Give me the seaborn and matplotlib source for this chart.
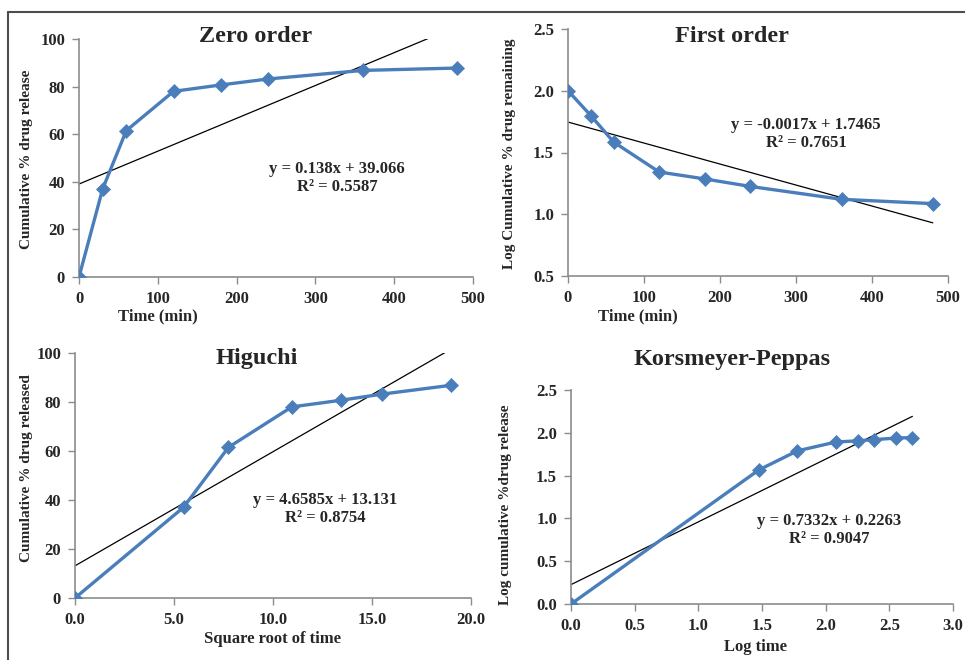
import numpy as np
import pandas as pd
import seaborn as sns
import matplotlib.pyplot as plt
from matplotlib.lines import Line2D

# ---- release data ----
time_min = [0, 30, 60, 120, 180, 240, 360, 480]
cum_release = [0, 37.0, 61.5, 78.0, 80.7, 83.2, 86.8, 87.8]
log_remaining = [2.000, 1.799, 1.585, 1.342, 1.286, 1.225, 1.121, 1.086]
sqrt_time = [0, 5.48, 7.75, 10.95, 13.42, 15.49, 18.97]
cum_release_sqrt = [0, 37.0, 61.5, 78.0, 80.7, 83.2, 86.8]
log_time = [0, 1.477, 1.778, 2.079, 2.255, 2.380, 2.556, 2.681]
log_release = [0, 1.568, 1.789, 1.892, 1.907, 1.920, 1.939, 1.944]

# linear fits (slope, intercept, R^2)
fit_zero = (0.138, 39.066, 0.5587)
fit_first = (-0.0017, 1.7465, 0.7651)
fit_higuchi = (4.6585, 13.131, 0.8754)
fit_kp = (0.7332, 0.2263, 0.9047)

sns.set_theme(style="white")
plt.rcParams["font.family"] = ["Liberation Serif", "DejaVu Serif"]
plt.rcParams["font.weight"] = "bold"

W, H = 965, 660
fig = plt.figure(figsize=(W / 100, H / 100), dpi=100)

BLUE = "#4a7ebb"
SPINE = "#8c8c8c"


def px_axes(l, r, t, b):
    return fig.add_axes([l / W, 1 - b / H, (r - l) / W, (b - t) / H])


def ftext(x, y, s, **kw):
    fig.text(x / W, 1 - y / H, s, ha="center", va="center",
             fontweight="bold", **kw)


def panel(rect, x, y, fit, xlim, ylim, xticks, yticks, fmt_x, fmt_y,
          title, title_xy, eq_xy, ylabel, ylabel_xy, xlabel, xlabel_xy):
    ax = px_axes(*rect)
    df = pd.DataFrame({"x": x, "y": y})
    sns.lineplot(data=df, x="x", y="y", ax=ax, color=BLUE, linewidth=2.4,
                 marker="D", markersize=7, markeredgecolor=BLUE,
                 markeredgewidth=0.5, zorder=3)
    slope, icpt, r2 = fit
    xs = np.array([min(x), max(x)])
    ax.plot(xs, slope * xs + icpt, color="black", linewidth=0.9, zorder=2)
    ax.set_xlim(*xlim)
    ax.set_ylim(*ylim)
    ax.set_xticks(xticks)
    ax.set_yticks(yticks)
    ax.set_xticklabels([fmt_x.format(v) for v in xticks])
    ax.set_yticklabels([fmt_y.format(v) for v in yticks])
    ax.set_xlabel("")
    ax.set_ylabel("")
    for side in ("top", "right"):
        ax.spines[side].set_visible(False)
    for side in ("left", "bottom"):
        ax.spines[side].set_color(SPINE)
        ax.spines[side].set_linewidth(1.2)
    ax.tick_params(axis="both", which="major", direction="out", length=5,
                   width=1.0, color=SPINE, labelsize=12, pad=5,
                   bottom=True, left=True)
    for lab in ax.get_xticklabels() + ax.get_yticklabels():
        lab.set_fontweight("bold")
    ax.set_facecolor("white")
    ax.patch.set_alpha(0)
    ftext(*title_xy, title, fontsize=17.5)
    sign = "-" if icpt < 0 else "+"
    eq = f"y = {slope:g}x {sign} {abs(icpt):g}\nR\u00b2 = {r2:.4f}"
    ftext(*eq_xy, eq, fontsize=12, linespacing=1.2)
    ftext(*ylabel_xy, ylabel, fontsize=11, rotation=90)
    ftext(*xlabel_xy, xlabel, fontsize=12)
    return ax


panel((79, 473, 39, 277), time_min, cum_release, fit_zero,
      (0, 500), (0, 100), [0, 100, 200, 300, 400, 500], [0, 20, 40, 60, 80, 100],
      "{:.0f}", "{:.0f}", "Zero order", (256, 36), (337, 178),
      "Cumulative % drug release", (27, 159), "Time (min)", (158, 316))

panel((568, 948, 29, 276), time_min, log_remaining, fit_first,
      (0, 500), (0.5, 2.5), [0, 100, 200, 300, 400, 500],
      [0.5, 1.0, 1.5, 2.0, 2.5],
      "{:.0f}", "{:.1f}", "First order", (732, 36), (806, 134),
      "Log Cumulative % drug remaining", (510, 154), "Time (min)", (638, 316))

panel((75, 471, 353, 598), sqrt_time, cum_release_sqrt, fit_higuchi,
      (0, 20), (0, 100), [0, 5, 10, 15, 20], [0, 20, 40, 60, 80, 100],
      "{:.1f}", "{:.0f}", "Higuchi", (257, 358), (325, 509),
      "Cumulative % drug released", (27, 468), "Square root of time", (273, 639))

panel((571, 953, 390, 604), log_time, log_release, fit_kp,
      (0, 3), (0, 2.5), [0, 0.5, 1.0, 1.5, 2.0, 2.5, 3.0],
      [0, 0.5, 1.0, 1.5, 2.0, 2.5],
      "{:.1f}", "{:.1f}", "Korsmeyer-Peppas", (732, 359), (829, 530),
      "Log cumulative %drug release", (505, 505), "Log time", (756, 647))

# outer frame (top and left edges)
fig.add_artist(Line2D([8 / W, 1], [1 - 12 / H, 1 - 12 / H],
                      color="#4d4d4d", linewidth=1.5))
fig.add_artist(Line2D([8 / W, 8 / W], [0, 1 - 12 / H],
                      color="#4d4d4d", linewidth=1.5))

fig.savefig("out.png", dpi=100, facecolor="white")
